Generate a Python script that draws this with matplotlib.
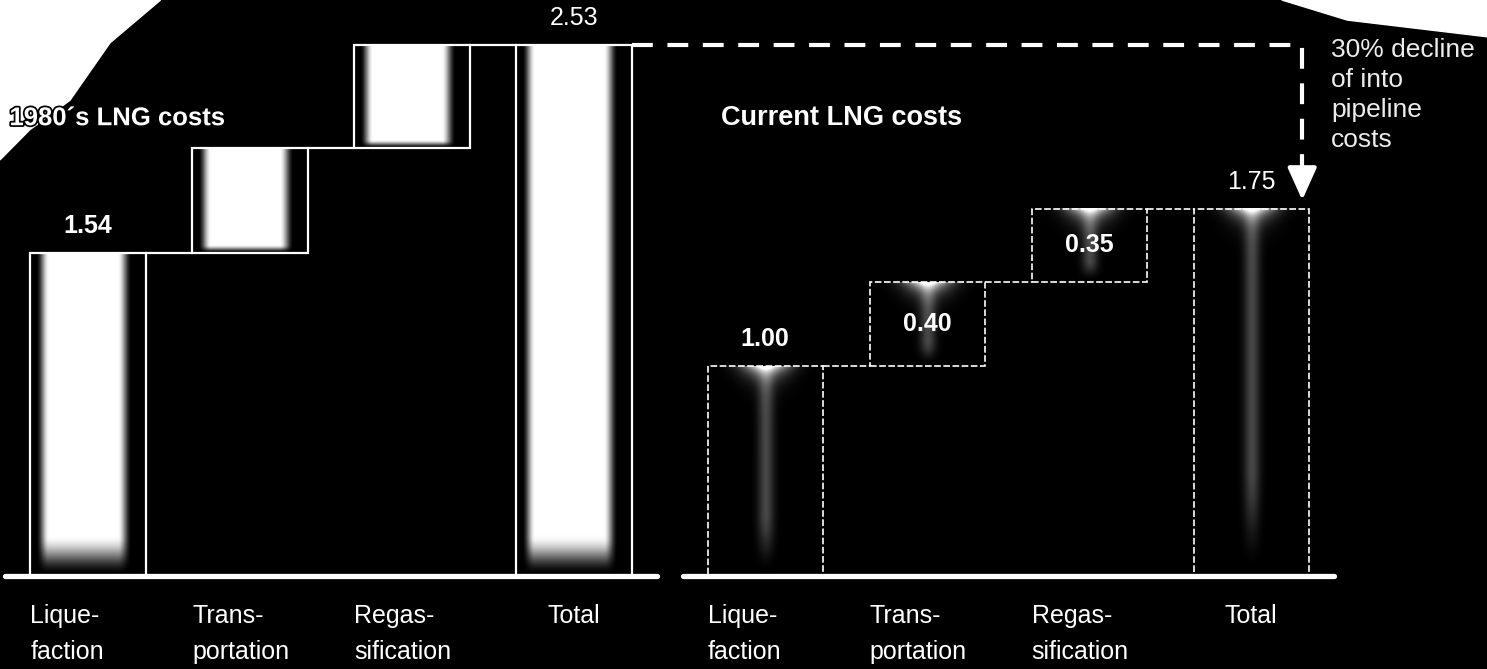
import numpy as np
import matplotlib.pyplot as plt
import matplotlib.patheffects as pe
from matplotlib.patches import Rectangle, Polygon

plt.rcParams['font.family'] = ['Liberation Sans', 'DejaVu Sans']

# ======================
# DATA
# ======================
steps = ["Lique-\nfaction", "Trans-\nportation", "Regas-\nsification", "Total"]
costs_1980s = [1.54, 0.50, 0.49]
total_1980s = 2.53
costs_now = [1.00, 0.40, 0.35]
total_now = 1.75
titles = ["1980´s LNG costs", "Current LNG costs"]
decline_note = "30% decline\nof into\npipeline\ncosts"

BAR_W = 0.71
x_1980s = np.arange(4)
x_now = 4.18 + np.arange(4)
PX_PER_UNIT = 210.0   # vertical pixels per cost unit


def smoothstep(a, b, t):
    s = np.clip((t - a) / (b - a), 0, 1)
    return s * s * (3 - 2 * s)


def glow_solid(ax, x0, x1, y0, y1, grounded):
    # bright white column filling most of the box
    u = np.linspace(0, 1, 120)
    v = np.linspace(0, 1, 300)
    hpx = (y1 - y0) * PX_PER_UNIT
    hu = smoothstep(0.05, 0.16, u) * (1 - smoothstep(0.76, 0.88, u))
    hv = smoothstep(0.0, 40 / hpx, v) if grounded else smoothstep(0.0, 8 / hpx, v)
    img = np.ones((len(v), len(u), 4))
    img[..., 3] = np.outer(hv, hu)
    ax.imshow(img, extent=[x0, x1, y0, y1], origin="lower", aspect="auto",
              interpolation="bilinear", zorder=1)


def glow_drip(ax, x0, x1, y0, y1):
    # small white wedge under the top edge plus a faint centre streak
    u = np.linspace(0, 1, 120)
    v = np.linspace(0, 1, 300)
    hpx = (y1 - y0) * PX_PER_UNIT
    U, V = np.meshgrid(u, v)
    depth = (1 - V) * hpx
    wedge = np.exp(-((U - 0.5) / 0.2) ** 2) * np.exp(-depth / 9)
    streak = 0.28 * np.exp(-((U - 0.5) / 0.07) ** 2) * smoothstep(0, 0.3, V)
    img = np.ones((len(v), len(u), 4))
    img[..., 3] = np.clip(wedge + streak, 0, 1)
    ax.imshow(img, extent=[x0, x1, y0, y1], origin="lower", aspect="auto",
              interpolation="bilinear", zorder=1)


def waterfall(ax, xs, parts, total, solid):
    parts = np.array(parts)
    heights = np.append(parts, total)
    bottoms = np.append(np.concatenate([[0], np.cumsum(parts)[:-1]]), 0)
    tops = bottoms + heights
    ls = "-" if solid else (0, (4, 1.5))
    lw = 1.6 if solid else 1.2

    for i, (x, b, h) in enumerate(zip(xs, bottoms, heights)):
        x0, x1 = x - BAR_W / 2, x + BAR_W / 2
        if solid:
            glow_solid(ax, x0, x1, b, b + h, grounded=(b == 0))
        else:
            glow_drip(ax, x0, x1, b, b + h)
        ax.add_patch(Rectangle((x0, b), BAR_W, h, fill=False, edgecolor="white",
                               linewidth=lw, linestyle=ls, zorder=3))

        label = f"{h:.2f}"
        if i == 0:
            ax.text(x, b + h + 0.07, label, ha="center", va="bottom",
                    fontsize=18, fontweight="bold", color="white", zorder=5)
        elif i == len(xs) - 1:
            ax.text(x, b + h + 0.07, label, ha="center", va="bottom",
                    fontsize=18, color="white", zorder=5)
        else:
            ax.text(x, b + h / 2, label, ha="center", va="center",
                    fontsize=18, fontweight="bold", color="white", zorder=5)

    # step connectors between boxes
    for i in range(len(xs) - 1):
        ax.plot([xs[i] + BAR_W / 2, xs[i + 1] - BAR_W / 2], [tops[i], tops[i]],
                color="white", linewidth=lw, linestyle=ls, zorder=3)

    # baseline
    ax.plot([xs[0] - 0.51, xs[-1] + 0.51], [0, 0], color="white",
            linewidth=3.8, solid_capstyle="round", zorder=4)

    # category labels
    for i, (x, name) in enumerate(zip(xs, steps)):
        if i == len(xs) - 1:
            ax.text(x, -0.135, name, ha="center", va="top", fontsize=18,
                    color="white", linespacing=1.6)
        else:
            ax.text(x - BAR_W / 2, -0.135, name, ha="left", va="top", fontsize=18,
                    color="white", linespacing=1.6)


fig = plt.figure(figsize=(14.87, 6.69), dpi=100, facecolor="black")
ax = fig.add_axes([0, 0, 1, 1])
ax.set_facecolor("black")

# scanned-page corners
ax.add_patch(Polygon([(0, 1), (0.108, 1), (0.074, 0.936), (0.047, 0.85),
                      (0.020, 0.806), (0, 0.761)],
                     closed=True, transform=ax.transAxes, color="white", zorder=0))
ax.add_patch(Polygon([(0.862, 1), (1, 1), (1, 0.945), (0.906, 0.97)],
                     closed=True, transform=ax.transAxes, color="white", zorder=0))

waterfall(ax, x_1980s, costs_1980s, total_1980s, solid=True)
waterfall(ax, x_now, costs_now, total_now, solid=False)

# panel titles
outline = [pe.withStroke(linewidth=2.5, foreground="black")]
ax.text(x_1980s[0] - 0.485, 2.18, titles[0], ha="left", va="center",
        fontsize=18.5, fontweight="bold", color="white", zorder=5,
        path_effects=outline)
ax.text(x_now[0] - 0.27, 2.18, titles[1], ha="left", va="center",
        fontsize=19.5, fontweight="bold", color="white", zorder=5)

# dashed drop from the old total to the new total
x_drop = x_now[-1] + BAR_W / 2 - 0.04
ax.plot([x_1980s[-1] + BAR_W / 2, x_drop, x_drop],
        [total_1980s, total_1980s, total_now + 0.2],
        color="white", linewidth=3, linestyle=(0, (5, 3.5)), zorder=4)
ax.annotate("", xy=(x_drop, total_now + 0.04), xytext=(x_drop, total_now + 0.2),
            arrowprops=dict(arrowstyle="-|>,head_length=1.0,head_width=0.45",
                            mutation_scale=20, color="white", linewidth=3,
                            shrinkA=0, shrinkB=0), zorder=4)
ax.text(x_drop + 0.18, total_1980s + 0.03, decline_note, ha="left", va="top",
        fontsize=19, color="#ececec", linespacing=1.3, zorder=5)

ax.set_xlim(-88 / 162, (1487 - 88) / 162)
ax.set_ylim(-93 / PX_PER_UNIT, (669 - 93) / PX_PER_UNIT)
ax.set_xticks([])
ax.set_yticks([])
for spine in ax.spines.values():
    spine.set_visible(False)

fig.savefig("out.png", dpi=100, facecolor="black")
